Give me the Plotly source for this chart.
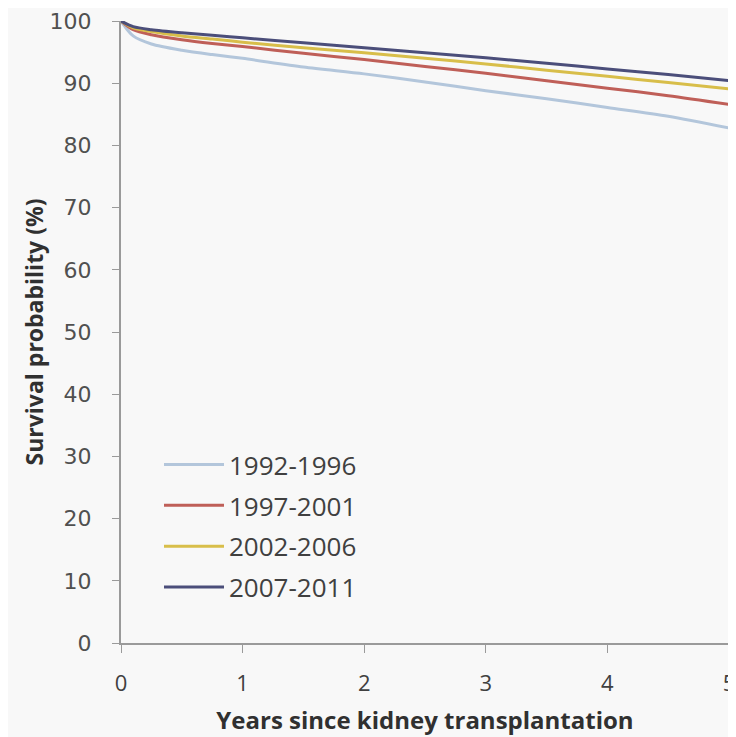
import plotly.graph_objects as go

years = [0, 0.1, 0.25, 0.5, 0.75, 1, 1.5, 2, 2.5, 3, 3.5, 4, 4.5, 5]
s_1992 = [100, 97.6, 96.3, 95.3, 94.6, 94.0, 92.6, 91.5, 90.2, 88.8, 87.5, 86.1, 84.7, 82.8]
s_1997 = [100, 98.6, 97.8, 97.0, 96.4, 95.9, 94.8, 93.8, 92.7, 91.6, 90.4, 89.2, 88.0, 86.6]
s_2002 = [100, 98.9, 98.3, 97.6, 97.1, 96.6, 95.7, 94.9, 94.0, 93.1, 92.1, 91.1, 90.1, 89.1]
s_2007 = [100, 99.1, 98.6, 98.1, 97.7, 97.3, 96.5, 95.7, 94.9, 94.1, 93.2, 92.3, 91.4, 90.4]

series_names = ["1992-1996", "1997-2001", "2002-2006", "2007-2011"]
series_values = [s_1992, s_1997, s_2002, s_2007]
colors = ["#b3c6db", "#bf5f58", "#d8be4a", "#4b4e7a"]

x_ticks = [0, 1, 2, 3, 4, 5]
y_ticks = [0, 10, 20, 30, 40, 50, 60, 70, 80, 90, 100]

fig = go.Figure()
for name, vals, col in zip(series_names, series_values, colors):
    fig.add_trace(go.Scatter(
        x=years, y=vals, mode="lines", name=name, legendgroup=name,
        line=dict(color=col, width=3, shape="spline", smoothing=0.8),
    ))

fig.update_layout(
    width=728, height=729,
    margin=dict(l=113, r=7, t=13, b=94, autoexpand=False),
    paper_bgcolor="#f8f8f8", plot_bgcolor="#f8f8f8",
    showlegend=True,
    legend=dict(
        x=0.0625, y=0.3245, xanchor="left", yanchor="top",
        bgcolor="rgba(0,0,0,0)",
        font=dict(family="Open Sans", size=26, color="#404040"),
        tracegroupgap=4, itemwidth=60,
    ),
    xaxis=dict(
        range=[0, 5], tickvals=x_ticks, showgrid=False, zeroline=False,
        showline=True, linecolor="#9a9a9a", linewidth=2, automargin=False,
        ticks="outside", ticklen=8, tickcolor="#9a9a9a", tickwidth=1,
        ticklabelstandoff=12,
        tickfont=dict(family="Open Sans", size=22, color="#404040"),
        title=dict(text="<b>Years since kidney transplantation</b>",
                   font=dict(family="Open Sans", size=24, color="#303030"), standoff=16),
    ),
    yaxis=dict(
        range=[0, 100], tickvals=y_ticks, showgrid=False, zeroline=False,
        showline=True, linecolor="#9a9a9a", linewidth=2, automargin=False,
        ticks="outside", ticklen=7, tickcolor="#9a9a9a", tickwidth=1,
        ticklabelstandoff=16,
        tickfont=dict(family="DejaVu Sans", size=22, color="#505050"),
        title=dict(text="<b>Survival probability (%)</b>",
                   font=dict(family="Open Sans", size=23, color="#303030"), standoff=0),
    ),
)

fig.write_html("out.html")
